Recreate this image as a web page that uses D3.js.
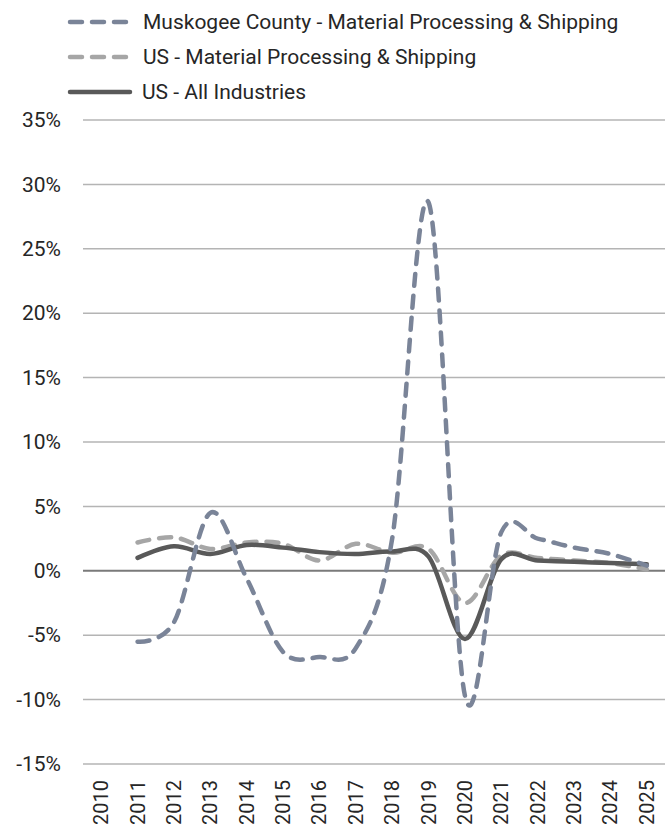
<!DOCTYPE html>
<html>
<head>
<meta charset="utf-8">
<script src="https://cdn.jsdelivr.net/npm/d3@7"></script>
<style>
  html, body { margin: 0; padding: 0; background: #fff; }
  svg text { font-family: Roboto, "Noto Sans", sans-serif; fill: #262626; }
</style>
</head>
<body>
<svg id="chart" width="669" height="827"></svg>
<script>
// Annual employment growth, 2010–2025
const years = ["2010","2011","2012","2013","2014","2015","2016","2017","2018","2019","2020","2021","2022","2023","2024","2025"];
const seriesYears = years.slice(1); // series begin in 2011

const muskogeeMPS = [-5.5, -4.0, 4.5, -0.6, -6.3, -6.7, -6.0, 2.5, 28.6, -9.7, 3.0, 2.5, 1.8, 1.3, 0.4];
const usMPS       = [2.2, 2.6, 1.7, 2.2, 2.1, 0.8, 2.1, 1.4, 1.7, -2.5, 1.2, 1.0, 0.8, 0.6, 0.1];
const usAll       = [1.0, 1.9, 1.3, 2.0, 1.8, 1.45, 1.3, 1.5, 1.1, -5.3, 0.9, 0.8, 0.7, 0.6, 0.5];

const yTicks = [-15, -10, -5, 0, 5, 10, 15, 20, 25, 30, 35];

const seriesNames = [
  "Muskogee County - Material Processing & Shipping",
  "US - Material Processing & Shipping",
  "US - All Industries"
];
const seriesColors = ["#7a8498", "#a6a6a6", "#595959"];
const seriesDash = ["12 10", "12 10", null];

const svg = d3.select("#chart");
const margin = { left: 83, right: 4, top: 120, bottom: 63 };
const W = 669, H = 827;
const fontSize = 21;

const x = d3.scaleBand().domain(years).range([margin.left, W - margin.right]);
const y = d3.scaleLinear().domain([-15, 35]).range([H - margin.bottom, margin.top]);

// Horizontal gridlines
svg.append("g")
  .selectAll("line")
  .data(yTicks.filter(d => d !== 0))
  .join("line")
  .attr("x1", margin.left).attr("x2", W - margin.right)
  .attr("y1", d => y(d)).attr("y2", d => y(d))
  .attr("stroke", "#b4b4b4").attr("stroke-width", 1.5);

// Zero baseline
svg.append("line")
  .attr("x1", margin.left).attr("x2", W - margin.right)
  .attr("y1", y(0)).attr("y2", y(0))
  .attr("stroke", "#7a7a7a").attr("stroke-width", 2);

// Y axis labels
const yAxis = d3.axisLeft(y).tickValues(yTicks).tickFormat(d => d + "%").tickSize(0).tickPadding(22);
const gy = svg.append("g").attr("transform", `translate(${margin.left},0)`).call(yAxis);
gy.select(".domain").remove();
gy.selectAll("text").attr("font-size", fontSize).style("font-family", null);

// X axis labels (rotated)
const xAxis = d3.axisBottom(x).tickSize(0).tickPadding(0);
const gx = svg.append("g").attr("transform", `translate(0,${y(-15)})`).call(xAxis);
gx.select(".domain").remove();
gx.selectAll("text")
  .attr("font-size", 20)
  .attr("transform", "rotate(-90)")
  .attr("text-anchor", "end")
  .attr("x", -16)
  .attr("y", 0)
  .attr("dy", "0.35em")
  .style("font-family", null);

// Series lines
const line = d3.line()
  .x((d, i) => x(seriesYears[i]) + x.bandwidth() / 2)
  .y(d => y(d))
  .curve(d3.curveCardinal.tension(0));

const allSeries = [muskogeeMPS, usMPS, usAll];
const drawOrder = [1, 2, 0];
drawOrder.forEach(k => {
  svg.append("path")
    .datum(allSeries[k])
    .attr("d", line)
    .attr("fill", "none")
    .attr("stroke", seriesColors[k])
    .attr("stroke-width", 4.5)
    .attr("stroke-linecap", "round")
    .attr("stroke-linejoin", "round")
    .attr("stroke-dasharray", seriesDash[k]);
});

// Legend
const legend = svg.append("g");
seriesNames.forEach((name, k) => {
  const ly = 22 + k * 35;
  legend.append("line")
    .attr("x1", 70).attr("x2", 130)
    .attr("y1", ly).attr("y2", ly)
    .attr("stroke", seriesColors[k])
    .attr("stroke-width", 4.5)
    .attr("stroke-linecap", "round")
    .attr("stroke-dasharray", seriesDash[k]);
  legend.append("text")
    .attr("x", k === 2 ? 142 : 143)
    .attr("y", ly)
    .attr("dy", "0.35em")
    .attr("font-size", fontSize)
    .text(name);
});
</script>
</body>
</html>
